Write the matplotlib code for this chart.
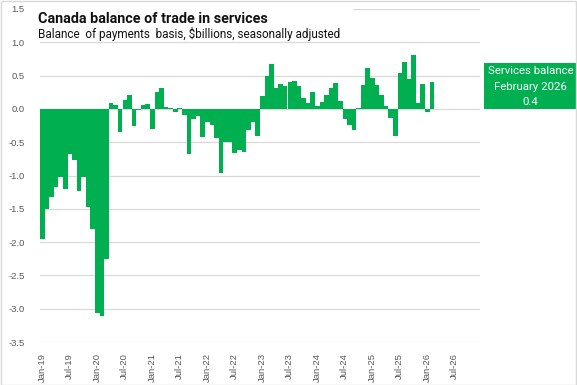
import matplotlib
matplotlib.use("Agg")
import matplotlib.pyplot as plt
from matplotlib.patches import Rectangle
import numpy as np

# ---- data ----
n_categories = 96  # Jan-19 .. Dec-26 on the category axis

balance = [
    -1.95, -1.50, -1.32, -1.18, -1.02, -1.20, -0.67, -0.76, -1.24, -1.02, -1.47, -1.81,   # 2019
    -3.06, -3.11, -2.25, 0.09, 0.06, -0.34, 0.13, 0.21, -0.25, -0.02, 0.065, 0.08,        # 2020
    -0.30, 0.26, 0.31, 0.03, 0.01, -0.04, 0.01, -0.09, -0.67, -0.15, -0.10, -0.42,         # 2021
    -0.19, -0.24, -0.44, -0.96, -0.49, -0.50, -0.66, -0.61, -0.64, -0.31, -0.20, -0.40,    # 2022
    0.20, 0.50, 0.68, 0.31, 0.38, 0.35, 0.41, 0.42, 0.35, 0.16, 0.09, 0.25,                # 2023
    0.05, 0.10, 0.21, 0.31, 0.39, 0.12, -0.15, -0.24, -0.32, 0.01, 0.36, 0.61,             # 2024
    0.46, 0.36, 0.21, 0.05, -0.13, -0.40, 0.54, 0.70, 0.45, 0.81, 0.09, 0.38,              # 2025
    -0.04, 0.40,                                                                           # 2026
]

tick_labels = ["Jan-19", "Jul-19", "Jan-20", "Jul-20", "Jan-21", "Jul-21", "Jan-22", "Jul-22",
               "Jan-23", "Jul-23", "Jan-24", "Jul-24", "Jan-25", "Jul-25", "Jan-26", "Jul-26"]
tick_every = 6

y_ticks = [1.5, 1.0, 0.5, 0.0, -0.5, -1.0, -1.5, -2.0, -2.5, -3.0, -3.5]

title = "Canada balance of trade in services"
subtitle = "Balance  of payments  basis, $billions, seasonally adjusted"
box_lines = ["Services balance", "February 2026", "0.4"]

GREEN = "#00B050"
GRID = "#d9d9d9"
TXT = "#595959"

W, H = 577, 385
fig = plt.figure(figsize=(W / 100, H / 100), dpi=100)
fig.patch.set_facecolor("white")

ax = fig.add_axes([40 / W, 1 - 342 / H, 440 / W, 333 / H])
x = np.arange(len(balance))
ax.bar(x, balance, width=1.0, color=GREEN, linewidth=0, zorder=3)

ax.set_xlim(-0.5, n_categories - 0.5)
ax.set_ylim(-3.5, 1.5)
ax.set_yticks(y_ticks)
ax.set_yticklabels([f"{v:.1f}" for v in y_ticks], fontsize=6.8, color=TXT, family="Liberation Sans")
ax.set_xticks(np.arange(0, len(tick_labels) * tick_every, tick_every))
ax.set_xticklabels(tick_labels, rotation=90, fontsize=6.8, color=TXT, family="Liberation Sans")
ax.tick_params(axis="both", length=0)
ax.tick_params(axis="y", pad=11)
ax.tick_params(axis="x", pad=8)
for s in ax.spines.values():
    s.set_visible(False)
ax.grid(axis="y", color=GRID, linewidth=0.9, zorder=0)
ax.set_axisbelow(True)

# title area (white text box hides the top gridline behind the title)
fig.patches.append(Rectangle((33 / W, 1 - 28 / H), 320 / W, 23 / H, transform=fig.transFigure,
                             facecolor="white", edgecolor="none", zorder=4))
fig.text(38 / W, 1 - 19 / H, title, fontsize=10.4, fontweight="bold", family="Roboto",
         va="center", ha="left", color="#111111", zorder=5)
fig.text(38 / W, 1 - 34 / H, subtitle, fontsize=8.5, family="Roboto",
         va="center", ha="left", color="#111111", zorder=5)

# annotation box
fig.patches.append(Rectangle((484 / W, 1 - 109 / H), 93 / W, 46 / H, transform=fig.transFigure,
                             facecolor=GREEN, edgecolor="none", zorder=5))
for i, t in enumerate(box_lines):
    fig.text(530.5 / W, 1 - (71.5 + 15.2 * i) / H, t, fontsize=8.2, family="Roboto",
             color="white", ha="center", va="center", zorder=6)

# chart border
fig.patches.append(Rectangle((0.5 / W, 0.5 / H), (W - 1.5) / W, (H - 1.5) / H, transform=fig.transFigure,
                             facecolor="none", edgecolor=GRID, linewidth=1, zorder=10))

fig.savefig("out.png", dpi=100)
